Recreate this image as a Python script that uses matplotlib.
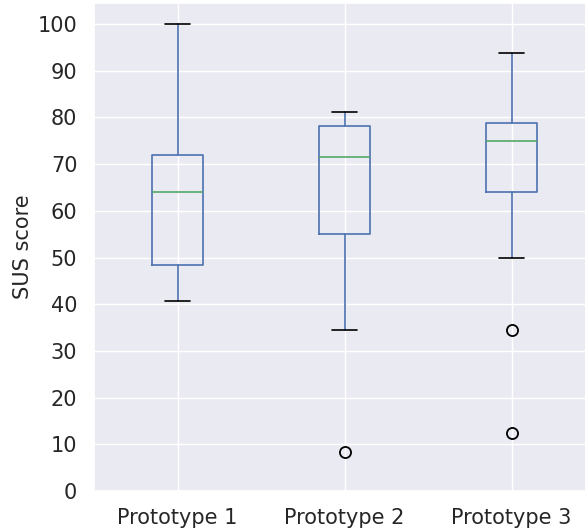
import matplotlib
matplotlib.use("Agg")
import matplotlib.pyplot as plt
import seaborn as sns

sns.set_theme(style="darkgrid")

labels = ["Prototype 1", "Prototype 2", "Prototype 3"]
whislo = [40.6, 34.4, 50.0]
q1 = [48.4, 55.0, 64.0]
med = [64.1, 71.5, 75.0]
q3 = [71.9, 78.1, 78.9]
whishi = [100.0, 81.2, 93.8]
fliers = [[], [8.3], [34.4, 12.5]]

stats = []
for i in range(len(labels)):
    stats.append(dict(label=labels[i], whislo=whislo[i], q1=q1[i], med=med[i],
                      q3=q3[i], whishi=whishi[i], fliers=fliers[i]))

fig = plt.figure(figsize=(5.85, 5.28), dpi=100)
ax = fig.add_axes([94 / 585, 37 / 528, 501 / 585, 488 / 528])

c0 = "#4C72B0"
c2 = "#55A868"
ax.bxp(stats,
       boxprops=dict(color=c0, linewidth=1.2),
       whiskerprops=dict(color=c0, linewidth=1.2),
       capprops=dict(color="black", linewidth=1.2),
       medianprops=dict(color=c2, linewidth=1.2),
       flierprops=dict(marker="o", markerfacecolor="none", markeredgecolor="black",
                       markersize=8, markeredgewidth=1.3))

ax.set_ylim(0, 104.5)
ax.set_yticks(range(0, 101, 10))
ax.tick_params(labelsize=15, pad=6)
ax.set_ylabel("SUS score", fontsize=15, labelpad=3)

fig.savefig("out.png", dpi=100)
